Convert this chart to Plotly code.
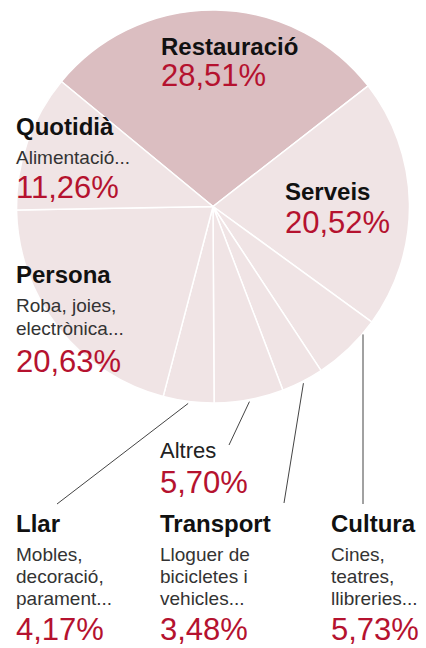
import math
import plotly.graph_objects as go

W, H = 426, 648

# ---- data ----
categories = ["Restauració", "Serveis", "Cultura", "Transport", "Altres", "Llar", "Persona", "Quotidià"]
shares = [28.51, 20.52, 5.73, 3.48, 5.70, 4.17, 20.63, 11.26]
pct_labels = ["28,51%", "20,52%", "5,73%", "3,48%", "5,70%", "4,17%", "20,63%", "11,26%"]
subtitles = {
    "Restauració": [],
    "Serveis": [],
    "Cultura": ["Cines,", "teatres,", "llibreries..."],
    "Transport": ["Lloguer de", "bicicletes i", "vehicles..."],
    "Altres": [],
    "Llar": ["Mobles,", "decoració,", "parament..."],
    "Persona": ["Roba, joies,", "electrònica..."],
    "Quotidià": ["Alimentació..."],
}

# ---- style / layout ----
FONT = "Liberation Sans, Arial, Helvetica, sans-serif"
DARK = "#dbbec1"
LIGHT = "#f0e4e5"
RED = "#b5122f"
slice_colors = [DARK] + [LIGHT] * 7

CX, CY, R = 213, 206.5, 196.5
ROT = -50.5

# label placement: left x, bold/title baseline, subtitle baselines, pct baseline, bold?
label_layout = {
    "Restauració": dict(x=161, t=55, subs=[], p=86, bold=True),
    "Serveis": dict(x=285, t=200, subs=[], p=233, bold=True),
    "Quotidià": dict(x=16, t=135, subs=[164], p=198, bold=True),
    "Persona": dict(x=16, t=283, subs=[312, 335], p=372, bold=True),
    "Altres": dict(x=160, t=458, subs=[], p=493, bold=False),
    "Llar": dict(x=16, t=532, subs=[561, 583, 605], p=640, bold=True),
    "Transport": dict(x=160, t=532, subs=[561, 583, 605], p=640, bold=True),
    "Cultura": dict(x=331, t=532, subs=[561, 583, 605], p=640, bold=True),
}
# leader line end points (px); Cultura drawn as vertical line
leader_end = {"Llar": (57, 504), "Altres": (229, 445), "Transport": (284, 503), "Cultura": (363, 504)}

TITLE_SIZE, SUB_SIZE, PCT_SIZE, PLAIN_SIZE = 24, 19, 31, 22

fig = go.Figure()
fig.add_trace(go.Pie(
    labels=categories, values=shares, sort=False, direction="clockwise",
    rotation=ROT, textinfo="none", hoverinfo="none", showlegend=False,
    marker=dict(colors=slice_colors, line=dict(color="white", width=1.5)),
    domain=dict(x=[(CX - R) / W, (CX + R) / W], y=[1 - (CY + R) / H, 1 - (CY - R) / H]),
))

ann = []


def line_text(text, x, baseline, size, color, bold=False):
    cy = baseline - 0.35 * size
    ann.append(dict(
        text=("<b>%s</b>" % text) if bold else text,
        x=(x - 2) / W, y=1 - cy / H, xref="paper", yref="paper",
        xanchor="left", yanchor="middle", showarrow=False,
        font=dict(family=FONT, size=size, color=color),
    ))


for cat, pct in zip(categories, pct_labels):
    L = label_layout[cat]
    line_text(cat, L["x"], L["t"], TITLE_SIZE if L["bold"] else PLAIN_SIZE,
              "#111111" if L["bold"] else "#222222", bold=L["bold"])
    for s, b in zip(subtitles[cat], L["subs"]):
        line_text(s, L["x"], b, SUB_SIZE, "#333333")
    line_text(pct, L["x"], L["p"], PCT_SIZE, RED)

# leader lines from the slices (computed from cumulative shares)
total = sum(shares)
cum = 0
shapes = []
for cat, v in zip(categories, shares):
    a0 = ROT + cum / total * 360
    a1 = ROT + (cum + v) / total * 360
    cum += v
    if cat not in leader_end:
        continue
    ex, ey = leader_end[cat]
    if cat == "Cultura":
        sx = ex
        sy = CY + math.sqrt(R ** 2 - (sx - CX) ** 2) + 1
    else:
        am = math.radians((a0 + a1) / 2)
        sx = CX + (R + 2) * math.sin(am)
        sy = CY - (R + 2) * math.cos(am)
    shapes.append(dict(type="line", xref="paper", yref="paper",
                       x0=sx / W, y0=1 - sy / H, x1=ex / W, y1=1 - ey / H,
                       line=dict(color="#444444", width=1)))

fig.update_layout(
    width=W, height=H, margin=dict(l=0, r=0, t=0, b=0),
    paper_bgcolor="white", plot_bgcolor="white",
    annotations=ann, shapes=shapes,
)

fig.write_html(
    "out.html",
    config={"displayModeBar": False},
    post_script="document.body.style.margin='0';document.body.style.overflow='hidden';",
)
